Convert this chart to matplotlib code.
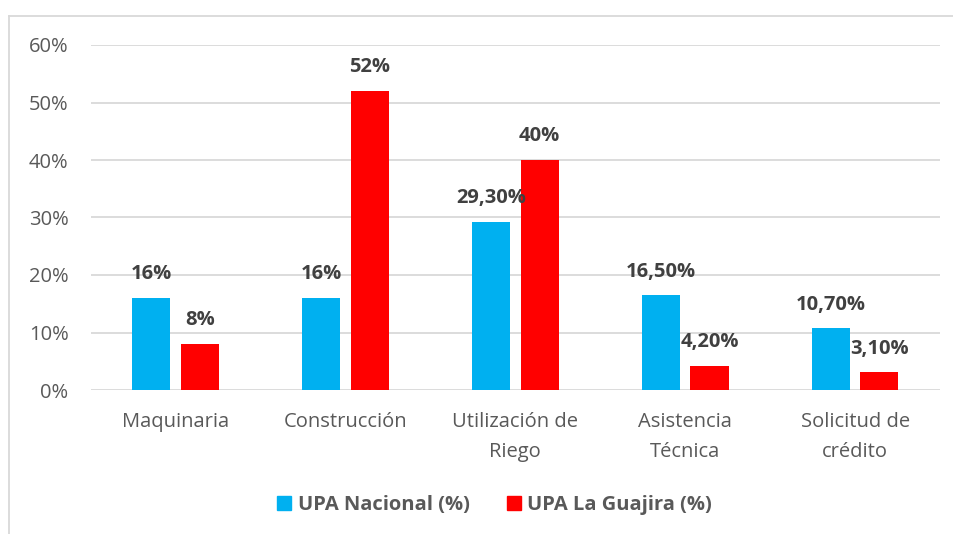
import numpy as np
import matplotlib
matplotlib.use("Agg")
import matplotlib.pyplot as plt
from matplotlib.lines import Line2D
from matplotlib.ticker import PercentFormatter

plt.rcParams["font.family"] = ["Open Sans", "DejaVu Sans"]

# Datos
categorias = ["Maquinaria", "Construcción", "Utilización de\nRiego",
              "Asistencia\nTécnica", "Solicitud de\ncrédito"]
upa_nacional = [0.16, 0.16, 0.293, 0.165, 0.107]
upa_guajira = [0.08, 0.52, 0.40, 0.042, 0.031]
etiquetas_nacional = ["16%", "16%", "29,30%", "16,50%", "10,70%"]
etiquetas_guajira = ["8%", "52%", "40%", "4,20%", "3,10%"]
series = ["UPA Nacional (%)", "UPA La Guajira (%)"]

azul = "#00b0f0"
rojo = "#ff0000"
gris_txt = "#595959"
gris_lbl = "#404040"
gris_grid = "#d9d9d9"

W, H = 954, 534
fig = plt.figure(figsize=(W / 100, H / 100), dpi=100)
ax = fig.add_axes([90.7 / W, 1 - 390 / H, (940 - 90.7) / W, (390 - 45) / H])

x = np.arange(len(categorias))
ancho = 0.225
desp = 0.143
b1 = ax.bar(x - desp, upa_nacional, ancho, color=azul, zorder=3)
b2 = ax.bar(x + desp, upa_guajira, ancho, color=rojo, zorder=3)

for barras, textos in [(b1, etiquetas_nacional), (b2, etiquetas_guajira)]:
    for b, t in zip(barras, textos):
        ax.annotate(t, (b.get_x() + b.get_width() / 2, b.get_height()),
                    xytext=(0, 17), textcoords="offset points",
                    ha="center", va="center", fontsize=14.5,
                    fontweight="bold", color=gris_lbl, zorder=4)

ax.set_xlim(-0.5, len(categorias) - 0.5)
ax.set_ylim(0, 0.6)
ax.set_yticks(np.arange(0, 0.61, 0.1))
ax.yaxis.set_major_formatter(PercentFormatter(1.0, decimals=0))
ax.set_xticks(x)
ax.set_xticklabels(categorias, linespacing=1.62)
ax.tick_params(axis="both", length=0, labelsize=14.5, labelcolor=gris_txt)
ax.tick_params(axis="y", pad=16)
ax.tick_params(axis="x", pad=16)
ax.grid(axis="y", color=gris_grid, linewidth=1.3, zorder=0)
for s in ax.spines.values():
    s.set_visible(False)

# Leyenda
handles = [Line2D([], [], marker="s", linestyle="", markersize=10,
                  color=c) for c in (azul, rojo)]
leg = fig.legend(handles, series, loc="center", ncol=2,
                 bbox_to_anchor=(494 / W, 1 - 505 / H), frameon=False,
                 handlelength=0.8, handletextpad=0.25, columnspacing=1.8,
                 prop={"size": 14.5, "weight": "bold"})
for t in leg.get_texts():
    t.set_color(gris_txt)

# Marco
fig.add_artist(Line2D([9 / W, 9 / W], [0, 1 - 16 / H], color=gris_grid,
                      linewidth=1.3, transform=fig.transFigure))
fig.add_artist(Line2D([9 / W, 1], [1 - 16 / H, 1 - 16 / H], color=gris_grid,
                      linewidth=1.3, transform=fig.transFigure))

fig.savefig("out.png", dpi=100, facecolor="white")
